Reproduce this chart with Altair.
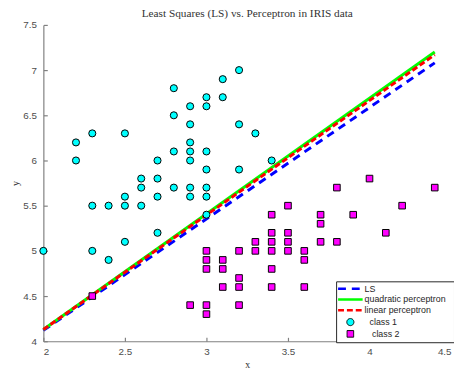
import altair as alt
import pandas as pd

chart_title = "Least Squares (LS) vs. Perceptron in IRIS data"

# class 1 (cyan circles): x = sepal width, y = sepal length
class1_x = [2.8, 2.8, 2.9, 3.0, 3.0, 3.1, 3.1, 3.2, 3.2, 3.3, 2.2, 2.2, 2.3, 2.5,
            2.9, 2.9, 2.8, 2.9, 3.0, 2.9, 2.7, 3.0, 3.2, 3.4, 2.6, 2.7, 2.6, 2.8,
            2.9, 3.0, 2.5, 2.7, 2.9, 3.0, 2.3, 2.4, 2.5, 2.6, 3.0, 2.7, 2.5, 2.3,
            2.0, 2.4]
class1_y = [6.8, 6.5, 6.6, 6.7, 6.6, 6.9, 6.7, 7.0, 6.4, 6.3, 6.2, 6.0, 6.3, 6.3,
            6.4, 6.2, 6.1, 6.1, 6.1, 6.0, 6.0, 5.9, 5.9, 6.0, 5.8, 5.8, 5.7, 5.7,
            5.7, 5.7, 5.6, 5.6, 5.6, 5.6, 5.5, 5.5, 5.5, 5.5, 5.4, 5.2, 5.1, 5.0,
            5.0, 4.9]

# class 2 (magenta squares)
class2_x = [4.0, 3.8, 4.4, 3.5, 4.2, 3.4, 3.7, 3.9, 3.7, 3.4, 3.5, 4.1, 3.3, 3.4,
            3.5, 3.7, 3.8, 3.0, 3.2, 3.3, 3.4, 3.5, 3.6, 3.0, 3.1, 3.6, 3.0, 3.1,
            3.4, 3.2, 3.1, 3.2, 3.4, 3.6, 2.3, 2.9, 3.0, 3.2, 3.0]
class2_y = [5.8, 5.7, 5.7, 5.5, 5.5, 5.4, 5.4, 5.4, 5.3, 5.2, 5.2, 5.2, 5.1, 5.1,
            5.1, 5.1, 5.1, 5.0, 5.0, 5.0, 5.0, 5.0, 5.0, 4.9, 4.9, 4.9, 4.8, 4.8,
            4.8, 4.7, 4.6, 4.6, 4.6, 4.6, 4.5, 4.4, 4.4, 4.4, 4.3]

# decision lines (end points)
line_x = [2.0, 4.4]
ls_y = [4.12, 7.08]
quad_y = [4.13, 7.20]
lin_y = [4.13, 7.17]

series_names = ["LS", "quadratic perceptron", "linear perceptron", "class 1", "class 2"]
line_colors = ["#0000ff", "#00ff00", "#ff0000"]
class_colors = ["#00ffff", "#ff00ff"]
class_shapes = ["circle", "square"]
legend_sizes = [625, 625, 625, 52, 45]

x_ticks = [2, 2.5, 3, 3.5, 4, 4.5]
y_ticks = [4, 4.5, 5, 5.5, 6, 6.5, 7, 7.5]

W, H = 415, 322

df_ls = pd.DataFrame({"x": line_x, "y": ls_y, "series": series_names[0]})
df_quad = pd.DataFrame({"x": line_x, "y": quad_y, "series": series_names[1]})
df_lin = pd.DataFrame({"x": line_x, "y": lin_y, "series": series_names[2]})
df_c1 = pd.DataFrame({"x": class1_x, "y": class1_y, "series": series_names[3]})
df_c2 = pd.DataFrame({"x": class2_x, "y": class2_y, "series": series_names[4]})

xscale = alt.Scale(domain=[2, 4.5], nice=False, zero=False)
yscale = alt.Scale(domain=[4, 7.5], nice=False, zero=False)

ZW = "\u200b"
NB = "\u00a0"
is_pt = "(datum.value === 'class 1' || datum.value === 'class 2')"
legend = alt.Legend(
    title=None,
    orient="none",
    legendX=298,
    legendY=261,
    padding=3,
    strokeColor="#262626",
    fillColor="white",
    labelFont="Liberation Sans",
    labelFontSize=9,
    labelColor="#262626",
    labelOffset=10,
    symbolOffset=7,
    rowPadding=0,
    symbolOpacity=1,
    symbolType=alt.ExprRef(f"{is_pt} ? (datum.value === 'class 1' ? 'circle' : 'square') : 'stroke'"),
    symbolFillColor=alt.ExprRef(f"datum.value === 'class 1' ? '{class_colors[0]}' : (datum.value === 'class 2' ? '{class_colors[1]}' : 'transparent')"),
    symbolStrokeColor=alt.ExprRef(
        f"datum.value === 'LS' ? '{line_colors[0]}' : (datum.value === 'quadratic perceptron' ? '{line_colors[1]}' : "
        f"(datum.value === 'linear perceptron' ? '{line_colors[2]}' : '#000000'))"),
    symbolStrokeWidth=alt.ExprRef(f"{is_pt} ? 1 : 2.5"),
    symbolDash=alt.ExprRef("datum.value === 'LS' ? [8, 6] : (datum.value === 'linear perceptron' ? [6, 3] : [1, 0])"),
    labelExpr=(f"datum.label === 'class 1' ? '{ZW}{NB}{NB}' + datum.label : "
               f"(datum.label === 'class 2' ? '{ZW}{NB}{NB}{NB}' + datum.label : datum.label + '{NB}{NB}{ZW}')"),
)

size_enc = alt.Size("series:N", scale=alt.Scale(type="ordinal", domain=series_names, range=legend_sizes), legend=legend)
fill_enc = alt.Fill("series:N", scale=alt.Scale(domain=series_names[3:], range=class_colors), legend=None)
shape_enc = alt.Shape("series:N", scale=alt.Scale(domain=series_names[3:], range=class_shapes), legend=None)

main_x_axis = alt.Axis(orient="bottom", values=x_ticks, format=".1~f", ticks=False, grid=False,
                       title="x", titleFont="Liberation Serif", titleFontWeight="normal",
                       titleFontSize=10, titleColor="#333333", titlePadding=4,
                       labelFont="Liberation Sans", labelFontSize=10, labelColor="#4d4d4d",
                       labelPadding=5, domainColor="#808080", domainWidth=1.2)
main_y_axis = alt.Axis(orient="left", values=y_ticks, format=".1~f", ticks=False, grid=False,
                       title="y", titleFont="Liberation Serif", titleFontWeight="normal",
                       titleFontSize=10, titleColor="#333333", titlePadding=2,
                       labelFont="Liberation Sans", labelFontSize=10, labelColor="#4d4d4d",
                       labelPadding=7, domainColor="#808080", domainWidth=1.2)
tick_x_axis = alt.Axis(orient="top", offset=-H, values=x_ticks, labels=False, domain=False,
                       ticks=True, tickSize=4, tickColor="#808080", tickWidth=1.2, grid=False, title=None)
tick_y_axis = alt.Axis(orient="right", offset=-W, values=y_ticks, labels=False, domain=False,
                       ticks=True, tickSize=4, tickColor="#808080", tickWidth=1.2, grid=False, title=None)

ls_layer = alt.Chart(df_ls).mark_line(strokeWidth=3, strokeDash=[8, 6], color=line_colors[0]).encode(
    x=alt.X("x:Q", scale=xscale, axis=tick_x_axis),
    y=alt.Y("y:Q", scale=yscale, axis=tick_y_axis),
)
quad_layer = alt.Chart(df_quad).mark_line(strokeWidth=3, color=line_colors[1]).encode(
    x=alt.X("x:Q", scale=xscale, axis=None),
    y=alt.Y("y:Q", scale=yscale, axis=None),
)
lin_layer = alt.Chart(df_lin).mark_line(strokeWidth=3, strokeDash=[6, 3], color=line_colors[2]).encode(
    x=alt.X("x:Q", scale=xscale, axis=None),
    y=alt.Y("y:Q", scale=yscale, axis=None),
)
c1_layer = alt.Chart(df_c1).mark_point(filled=True, stroke="black", strokeWidth=1, opacity=1).encode(
    x=alt.X("x:Q", scale=xscale, axis=main_x_axis),
    y=alt.Y("y:Q", scale=yscale, axis=main_y_axis),
    fill=fill_enc, shape=shape_enc, size=size_enc,
)
c2_layer = alt.Chart(df_c2).mark_point(filled=True, stroke="black", strokeWidth=1, opacity=1).encode(
    x=alt.X("x:Q", scale=xscale, axis=None),
    y=alt.Y("y:Q", scale=yscale, axis=None),
    fill=fill_enc, shape=shape_enc, size=size_enc,
)

chart = alt.layer(ls_layer, quad_layer, lin_layer, c1_layer, c2_layer).properties(
    width=W,
    height=H,
    title=alt.TitleParams(chart_title, font="Liberation Serif", fontSize=11.5,
                          fontWeight="normal", color="#333333", offset=1, anchor="middle"),
    autosize=alt.AutoSizeParams(type="none"),
    padding={"left": 36, "top": 14, "right": 3, "bottom": 24},
).configure_view(stroke=None)

chart.save("out.html", embed_options={"renderer": "svg", "actions": False})
